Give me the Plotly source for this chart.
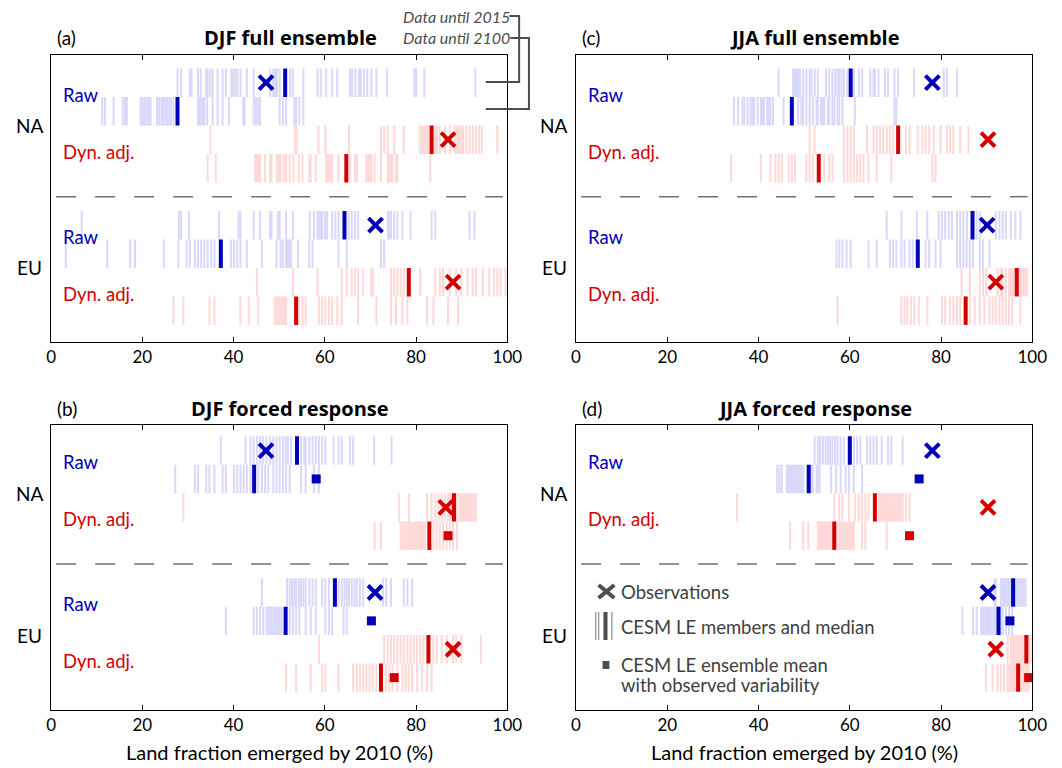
import plotly.graph_objects as go

W, H = 1062, 768
FONT = "Lato"
TFONT = "Open Sans"
BLUE, RED = "#0000b8", "#d40000"
LBLUE, LRED = "#d8d8fb", "#ffd8d8"
GREY = "#4d4d4d"

# ---------------- data: (a) DJF full ensemble ----------------
a_na_raw_15 = [27.7, 28.5, 30.4, 30.8, 32.2, 32.8, 34.0, 34.3, 34.9, 35.4, 36.5, 37.6, 38.3, 39.5, 39.9, 40.4, 40.8, 41.5, 42.9, 44.4, 48.0, 48.7, 49.1, 49.5, 50.1, 52.4, 53.0, 55.3, 58.4, 59.1, 60.3, 61.6, 62.7, 65.5, 66.0, 66.7, 67.5, 67.9, 68.6, 69.3, 70.2, 71.3, 73.6, 79.6, 80.0, 81.8, 93.0]
a_na_raw_00 = [11.2, 11.8, 13.7, 15.7, 16.2, 16.6, 19.6, 20.0, 20.4, 20.7, 21.1, 21.4, 21.8, 23.2, 23.7, 24.2, 24.4, 24.8, 25.2, 25.5, 25.9, 26.3, 26.8, 32.2, 32.5, 32.9, 33.3, 33.6, 34.2, 35.4, 36.5, 37.6, 39.0, 42.1, 42.4, 44.4, 44.9, 45.4, 45.8, 50.1, 50.8, 51.5, 53.3, 53.7, 54.4, 55.3]
a_na_dyn_15 = [34.9, 53.5, 53.8, 58.6, 60.1, 65.3, 72.3, 73.0, 73.8, 75.2, 77.3, 80.8, 81.3, 81.6, 82.0, 82.4, 82.7, 84.2, 84.6, 85.2, 86.3, 87.4, 88.5, 89.0, 89.4, 89.9, 90.3, 91.0, 91.7, 92.4, 93.1, 93.8, 94.4, 97.8]
a_na_dyn_00 = [34.3, 36.1, 44.7, 45.1, 45.4, 45.8, 46.9, 48.0, 48.3, 49.5, 50.0, 50.3, 51.0, 51.5, 52.3, 53.1, 54.3, 55.1, 56.6, 56.9, 58.0, 60.3, 60.7, 61.2, 61.6, 63.0, 65.5, 66.6, 67.0, 69.1, 69.5, 69.8, 70.2, 70.9, 72.3, 73.8, 74.1, 74.5, 74.8, 75.6, 75.9, 83.1]
a_eu_raw_15 = [6.7, 28.0, 28.5, 30.2, 36.8, 41.1, 41.5, 44.4, 45.8, 48.0, 48.3, 49.7, 50.1, 51.5, 53.0, 56.7, 57.6, 58.4, 58.7, 59.1, 59.4, 60.0, 60.5, 61.6, 62.3, 63.0, 65.2, 65.9, 66.6, 67.3, 73.8, 74.1, 74.5, 75.2, 75.9, 77.0, 78.8, 83.4, 84.2, 91.7, 92.8]
a_eu_raw_00 = [3.2, 12.3, 17.3, 18.4, 24.7, 27.9, 29.7, 30.4, 31.5, 32.2, 32.9, 33.6, 34.3, 35.1, 35.8, 39.4, 40.1, 40.8, 41.5, 42.9, 46.2, 49.4, 50.3, 50.8, 51.5, 51.9, 52.3, 52.6, 54.1, 56.6, 57.3, 63.0, 64.8, 72.3, 73.0]
a_eu_dyn_15 = [45.1, 53.0, 58.4, 63.7, 64.8, 65.9, 66.6, 67.3, 68.4, 70.2, 70.5, 74.5, 75.2, 75.9, 76.6, 77.3, 80.9, 84.2, 85.2, 85.9, 87.4, 88.8, 89.9, 91.3, 92.4, 93.1, 94.6, 96.0, 97.1, 97.8, 98.5, 99.6]
a_eu_dyn_00 = [26.8, 29.0, 34.7, 35.8, 41.5, 43.3, 45.4, 49.0, 49.4, 49.7, 50.1, 50.5, 50.8, 51.2, 51.5, 54.4, 55.1, 55.8, 58.7, 59.4, 60.1, 60.9, 61.6, 62.7, 63.7, 67.3, 71.3, 74.5, 75.6, 77.0, 78.1, 82.4, 83.8, 87.0, 89.2]
a_medians = [51.3, 27.7, 83.4, 64.7, 64.3, 37.2, 78.4, 53.7]
a_obs = [47.1, 87.0, 71.1, 88.1]

# ---------------- data: (c) JJA full ensemble ----------------
c_na_raw_15 = [44.4, 47.6, 48.0, 48.4, 48.7, 49.1, 49.8, 50.5, 51.2, 51.6, 52.3, 53.0, 54.8, 55.5, 56.2, 56.8, 57.3, 57.7, 58.2, 58.7, 59.5, 60.9, 62.0, 62.7, 64.5, 65.2, 65.5, 66.3, 67.7, 68.4, 69.8, 70.6, 74.1, 80.6, 81.3, 83.5]
c_na_raw_00 = [34.6, 35.5, 36.5, 36.9, 37.6, 38.3, 38.7, 39.0, 39.8, 40.5, 40.8, 41.2, 41.9, 42.3, 42.6, 43.2, 45.5, 48.7, 49.4, 49.8, 50.5, 51.2, 51.9, 52.7, 53.0, 53.7, 54.1, 54.4, 55.2, 55.5, 56.2, 56.6, 57.3, 57.7, 58.4, 61.1, 69.8, 70.2]
c_na_dyn_15 = [51.2, 52.3, 58.7, 59.5, 60.2, 60.9, 63.8, 65.2, 65.9, 66.6, 67.3, 68.1, 68.8, 69.5, 72.3, 73.1, 74.9, 75.9, 76.6, 77.4, 78.4, 79.9, 81.3, 82.0, 82.7, 84.2, 86.0]
c_na_dyn_00 = [34.0, 40.5, 42.6, 43.7, 44.4, 45.1, 46.6, 47.3, 48.0, 50.5, 51.2, 51.9, 54.4, 55.5, 56.2, 58.7, 59.5, 60.2, 60.9, 61.6, 62.3, 63.0, 64.1, 65.9, 69.1, 78.1, 78.8]
c_eu_raw_15 = [68.1, 71.3, 74.7, 77.0, 79.5, 80.2, 80.9, 81.7, 82.4, 83.5, 84.2, 84.9, 85.7, 87.8, 88.5, 92.0, 92.8, 93.5, 94.2, 95.3, 96.3, 97.4]
c_eu_raw_00 = [57.1, 57.7, 58.4, 59.3, 60.2, 64.1, 65.9, 68.8, 69.5, 70.2, 71.3, 72.0, 73.1, 73.8, 76.6, 77.4, 78.8, 79.9, 83.5, 84.2, 84.9, 85.6, 86.3, 87.0, 88.5, 89.2, 90.6]
c_eu_dyn_15 = [84.5, 86.3, 88.5, 89.2, 89.9, 92.4, 93.1, 93.5, 94.2, 94.9, 95.3, 95.6, 96.0, 97.1, 97.4, 97.7, 98.1, 98.4, 98.9]
c_eu_dyn_00 = [57.3, 71.3, 72.0, 72.6, 73.4, 74.1, 75.2, 77.0, 80.2, 80.9, 82.0, 82.7, 83.5, 84.2, 86.3, 87.4, 88.5, 89.5, 90.6, 91.3, 92.0, 92.8, 93.5, 94.2, 94.9, 95.6, 97.4]
c_medians = [60.2, 47.3, 70.6, 53.2, 86.9, 74.9, 96.6, 85.4]
c_obs = [78.1, 90.3, 90.1, 92.0]

# ---------------- data: (b) DJF forced response ----------------
b_na_raw_15 = [37.2, 42.6, 43.7, 44.4, 45.1, 45.8, 46.4, 47.2, 48.0, 48.7, 49.4, 50.1, 50.8, 51.4, 51.9, 52.6, 54.8, 55.5, 55.8, 56.6, 57.3, 58.0, 58.7, 59.4, 60.1, 61.9, 63.0, 63.7, 65.5, 66.2, 70.8, 74.6]
b_na_raw_00 = [27.2, 31.5, 32.2, 34.0, 34.7, 35.8, 37.6, 38.3, 40.1, 40.8, 41.5, 42.2, 42.9, 43.7, 45.4, 46.2, 46.9, 47.6, 48.7, 49.4, 50.1, 50.8, 51.5, 52.3, 54.8, 55.8, 57.6, 58.7]
b_na_dyn_15 = [29.0, 76.3, 78.4, 82.4, 83.4, 84.2, 84.9, 85.6, 86.3, 87.0, 87.4, 87.8, 88.7, 89.0, 89.6, 89.9, 90.3, 90.6, 91.0, 91.3, 91.7, 92.0, 92.4, 92.8, 93.1]
b_na_dyn_00 = [70.9, 72.3, 76.6, 77.0, 77.3, 77.7, 78.1, 78.4, 78.8, 79.1, 79.5, 79.9, 80.2, 80.6, 80.9, 81.3, 81.6, 82.0, 83.8, 84.5, 85.2, 85.9, 86.7, 87.4, 88.1, 89.0]
b_eu_raw_15 = [46.2, 51.7, 52.3, 52.8, 53.3, 53.7, 54.3, 54.8, 55.3, 55.8, 56.6, 57.3, 58.0, 59.4, 60.1, 60.9, 63.0, 63.7, 64.3, 64.8, 65.3, 65.9, 66.5, 67.0, 67.7, 68.4, 72.7, 73.4, 74.5, 77.3, 78.1, 79.1]
b_eu_raw_00 = [38.3, 44.4, 45.1, 45.8, 46.5, 47.2, 47.6, 48.0, 48.3, 48.7, 49.0, 49.4, 49.8, 50.1, 50.5, 52.3, 53.0, 53.7, 54.4, 55.8, 56.9, 58.0, 60.1, 60.9, 61.6, 64.1, 64.8]
b_eu_dyn_15 = [58.7, 73.0, 73.8, 74.5, 75.2, 75.9, 76.6, 77.3, 78.1, 78.8, 79.5, 80.2, 80.9, 81.6, 83.8, 84.5, 85.6, 86.7, 88.1, 88.8, 89.9, 94.2]
b_eu_dyn_00 = [51.5, 53.7, 56.9, 59.4, 60.1, 63.0, 66.2, 67.0, 67.7, 68.4, 69.1, 69.8, 70.5, 71.3, 73.4, 74.1, 74.8, 75.9, 77.0, 77.7, 78.4, 79.1, 80.2, 81.3, 82.4, 83.4]
b_medians = [53.9, 44.5, 88.3, 82.9, 62.2, 51.4, 82.7, 72.3]
b_obs = [47.1, 86.5, 71.0, 88.1]
b_means = [58.1, 87.0, 70.2, 75.2]

# ---------------- data: (d) JJA forced response ----------------
d_na_raw_15 = [52.3, 53.0, 53.5, 54.1, 54.7, 55.2, 55.7, 56.2, 56.8, 57.3, 58.0, 58.7, 60.9, 61.6, 62.3, 63.8, 64.5, 65.2, 65.9, 67.0, 68.4, 69.1, 71.6]
d_na_raw_00 = [44.1, 44.6, 45.1, 46.2, 46.6, 46.9, 47.3, 47.6, 48.0, 48.4, 48.7, 49.1, 49.4, 49.8, 51.6, 51.9, 52.7, 53.0, 53.4, 55.9, 57.0, 58.0, 59.1, 59.8, 60.9, 62.7]
d_na_dyn_15 = [35.3, 56.6, 57.7, 58.4, 59.8, 61.2, 62.0, 62.7, 63.4, 64.1, 66.3, 66.6, 67.0, 67.3, 67.7, 68.1, 68.4, 68.8, 69.1, 69.5, 69.8, 70.2, 70.6, 70.9, 71.3, 71.6, 72.3, 73.1]
d_na_dyn_00 = [46.9, 49.8, 50.9, 53.0, 53.3, 53.5, 53.8, 54.1, 54.4, 54.7, 54.9, 55.2, 55.4, 55.7, 56.1, 57.3, 57.7, 58.0, 58.4, 58.7, 59.1, 59.5, 59.8, 60.2, 60.5, 60.9, 62.7, 63.4, 68.1]
d_eu_raw_15 = [91.7, 92.0, 93.1, 93.5, 93.8, 94.2, 94.6, 94.9, 95.3, 96.3, 96.7, 97.0, 97.4, 97.7, 98.1, 98.5]
d_eu_raw_00 = [84.7, 87.0, 87.8, 88.8, 89.2, 89.5, 89.9, 90.3, 90.6, 91.0, 91.3, 91.7, 92.0, 93.1, 93.5, 94.2, 94.9, 95.6]
d_eu_dyn_15 = [94.6, 95.3, 95.6, 96.0, 96.3, 96.7, 97.0, 97.4, 97.7, 98.1, 98.4, 99.2, 99.6]
d_eu_dyn_00 = [89.9, 91.3, 92.4, 93.1, 93.8, 94.6, 95.0, 95.3, 95.6, 96.0, 96.3, 97.4, 97.7, 98.1, 98.5, 98.8, 99.2]
d_medians = [60.0, 51.0, 65.5, 56.6, 95.8, 92.6, 98.7, 96.9]
d_obs = [78.1, 90.3, 90.3, 92.0]
d_means = [75.2, 73.1, 95.1, 99.2]

x_ticks = [0, 20, 40, 60, 80, 100]
row_pos = [1, 2, 3, 4, 6, 7, 8, 9]          # NA raw15, raw00, dyn15, dyn00, EU raw15, raw00, dyn15, dyn00
row_light = [LBLUE, LBLUE, LRED, LRED] * 2
row_dark = [BLUE, BLUE, RED, RED] * 2
obs_rows = [1, 3, 6, 8]
mean_rows = [2, 4, 7, 9]
obs_cols = [BLUE, RED, BLUE, RED]

def px(x):
    return x / W

def py(y):
    return 1 - y / H

panels = [
    dict(k="", xd=(47, 512), yd=(55, 342), yr=[10.1, 0.03], lab="(a)", title="DJF full ensemble",
         rows=[a_na_raw_15, a_na_raw_00, a_na_dyn_15, a_na_dyn_00, a_eu_raw_15, a_eu_raw_00, a_eu_dyn_15, a_eu_dyn_00],
         med=a_medians, obs=a_obs, mean=None, xt=False, eulab=True),
    dict(k="2", xd=(582, 1047), yd=(55, 342), yr=[10.1, 0.03], lab="(c)", title="JJA full ensemble",
         rows=[c_na_raw_15, c_na_raw_00, c_na_dyn_15, c_na_dyn_00, c_eu_raw_15, c_eu_raw_00, c_eu_dyn_15, c_eu_dyn_00],
         med=c_medians, obs=c_obs, mean=None, xt=False, eulab=True),
    dict(k="3", xd=(47, 512), yd=(425, 710), yr=[10.14, 0.1], lab="(b)", title="DJF forced response",
         rows=[b_na_raw_15, b_na_raw_00, b_na_dyn_15, b_na_dyn_00, b_eu_raw_15, b_eu_raw_00, b_eu_dyn_15, b_eu_dyn_00],
         med=b_medians, obs=b_obs, mean=b_means, xt=True, eulab=True),
    dict(k="4", xd=(582, 1047), yd=(425, 710), yr=[10.14, 0.1], lab="(d)", title="JJA forced response",
         rows=[d_na_raw_15, d_na_raw_00, d_na_dyn_15, d_na_dyn_00, d_eu_raw_15, d_eu_raw_00, d_eu_dyn_15, d_eu_dyn_00],
         med=d_medians, obs=d_obs, mean=d_means, xt=True, eulab=False),
]

fig = go.Figure()
annotations = []
shapes = []

for p in panels:
    xa, ya = "x" + p["k"], "y" + p["k"]
    for vals, r, col in zip(p["rows"], row_pos, row_light):
        xs, ys = [], []
        for v in vals:
            xs += [v, v, None]
            ys += [r - 0.5, r + 0.5, None]
        fig.add_trace(go.Scatter(x=xs, y=ys, mode="lines", line=dict(color=col, width=2),
                                 xaxis=xa, yaxis=ya, hoverinfo="skip", showlegend=False))
    for m, r, col in zip(p["med"], row_pos, row_dark):
        fig.add_trace(go.Scatter(x=[m, m], y=[r - 0.5, r + 0.5], mode="lines", line=dict(color=col, width=4),
                                 xaxis=xa, yaxis=ya, hoverinfo="skip", showlegend=False))
    fig.add_trace(go.Scatter(x=p["obs"], y=obs_rows, mode="markers", cliponaxis=False,
                             marker=dict(symbol="x-thin", size=14, line=dict(width=4, color=obs_cols), color=obs_cols),
                             xaxis=xa, yaxis=ya, hoverinfo="skip", showlegend=False))
    if p["mean"]:
        fig.add_trace(go.Scatter(x=p["mean"], y=mean_rows, mode="markers", cliponaxis=False,
                                 marker=dict(symbol="square", size=9, color=obs_cols, line=dict(width=0)),
                                 xaxis=xa, yaxis=ya, hoverinfo="skip", showlegend=False))
    fig.update_layout(**{
        "xaxis" + p["k"]: dict(domain=[px(p["xd"][0]), px(p["xd"][1])], anchor=ya, range=[0, 100],
                                tickvals=x_ticks, ticks="inside", ticklen=5, tickcolor="black",
                                showline=True, linecolor="black", linewidth=1, mirror="ticks",
                                showgrid=False, zeroline=False, tickfont=dict(size=17, color="black", family=FONT)),
        "yaxis" + p["k"]: dict(domain=[py(p["yd"][1]), py(p["yd"][0])], anchor=xa, range=p["yr"],
                                showline=True, linecolor="black", linewidth=1, mirror=True,
                                showgrid=False, zeroline=False, showticklabels=False, ticks=""),
    })
    shapes.append(dict(type="line", xref=xa + " domain", yref=ya, x0=0.011, x1=0.99, y0=5, y1=5,
                       line=dict(color="#707070", width=1.5, dash="20px,19px")))
    labs = [("Raw", 1.42, BLUE), ("Dyn. adj.", 3.42, RED)]
    if p["eulab"]:
        labs += [("Raw", 6.42, BLUE), ("Dyn. adj.", 8.42, RED)]
    for txt, yy, col in labs:
        annotations.append(dict(text=txt, xref="paper", yref=ya, x=px(p["xd"][0] + 10), y=yy, xanchor="left",
                                yanchor="middle", showarrow=False, font=dict(size=18.5, color=col, family=FONT)))
    xc = p["xd"][0] - 22
    for txt, yy in [("NA", 2.5), ("EU", 7.5)]:
        annotations.append(dict(text=txt, xref="paper", yref=ya, x=px(xc), y=yy, xanchor="center",
                                yanchor="middle", showarrow=False, font=dict(size=19, color="black", family=FONT)))
    cx = (p["xd"][0] + p["xd"][1]) / 2 + 11
    annotations.append(dict(text="<b>" + p["title"] + "</b>", xref="paper", yref="paper", x=px(cx),
                            y=py(p["yd"][0] - 17), xanchor="center", yanchor="middle", showarrow=False,
                            font=dict(size=20, color="black", family=TFONT)))
    annotations.append(dict(text=p["lab"], xref="paper", yref="paper", x=px(p["xd"][0] + 4),
                            y=py(p["yd"][0] - 17), xanchor="left", yanchor="middle", showarrow=False,
                            font=dict(size=19, color="black", family=FONT)))
    if p["xt"]:
        annotations.append(dict(text="Land fraction emerged by 2010 (%)", xref="paper", yref="paper",
                                x=px((p["xd"][0] + p["xd"][1]) / 2), y=py(752), xanchor="center",
                                yanchor="middle", showarrow=False, font=dict(size=20, color="black", family=FONT)))

# "Data until" key (top)
for txt, yy in [("Data until 2015", 16), ("Data until 2100", 38)]:
    annotations.append(dict(text="<i>" + txt + "</i>", xref="paper", yref="paper", x=px(517), y=py(yy),
                            xanchor="right", yanchor="middle", showarrow=False,
                            font=dict(size=16, color=GREY, family=FONT)))
for pts in [[(514, 16), (524, 16), (524, 82), (490, 82)], [(515, 38), (534, 38), (534, 109), (490, 109)]]:
    path = "M " + " L ".join(f"{px(x):.5f},{py(y):.5f}" for x, y in pts)
    shapes.append(dict(type="path", xref="paper", yref="paper", path=path,
                       line=dict(color=GREY, width=2)))

# legend in panel (d)
shapes += [
    dict(type="line", xref="paper", yref="paper", x0=px(605), y0=py(585), x1=px(621), y1=py(598), line=dict(color=GREY, width=4)),
    dict(type="line", xref="paper", yref="paper", x0=px(605), y0=py(598), x1=px(621), y1=py(585), line=dict(color=GREY, width=4)),
    dict(type="line", xref="paper", yref="paper", x0=px(602), y0=py(612), x1=px(602), y1=py(640), line=dict(color="#a0a0a0", width=1.5)),
    dict(type="line", xref="paper", yref="paper", x0=px(605), y0=py(612), x1=px(605), y1=py(640), line=dict(color="#a0a0a0", width=1.5)),
    dict(type="line", xref="paper", yref="paper", x0=px(612), y0=py(612), x1=px(612), y1=py(640), line=dict(color=GREY, width=4)),
    dict(type="line", xref="paper", yref="paper", x0=px(618.5), y0=py(612), x1=px(618.5), y1=py(640), line=dict(color="#a0a0a0", width=1.5)),
    dict(type="rect", xref="paper", yref="paper", x0=px(609), y0=py(661), x1=px(616), y1=py(669), line=dict(width=0), fillcolor=GREY),
]
for txt, yy in [("Observations", 592), ("CESM LE members and median", 627), ("CESM LE ensemble mean", 665), ("with observed variability", 685)]:
    annotations.append(dict(text=txt, xref="paper", yref="paper", x=px(626), y=py(yy), xanchor="left",
                            yanchor="middle", showarrow=False, font=dict(size=18.5, color="#404040", family=FONT)))

fig.update_layout(width=W, height=H, margin=dict(l=0, r=0, t=0, b=0), plot_bgcolor="white",
                  paper_bgcolor="white", annotations=annotations, shapes=shapes, showlegend=False,
                  font=dict(family=FONT))

fig.write_html("out.html", config={"displayModeBar": False},
               post_script="document.body.style.margin='0';")
